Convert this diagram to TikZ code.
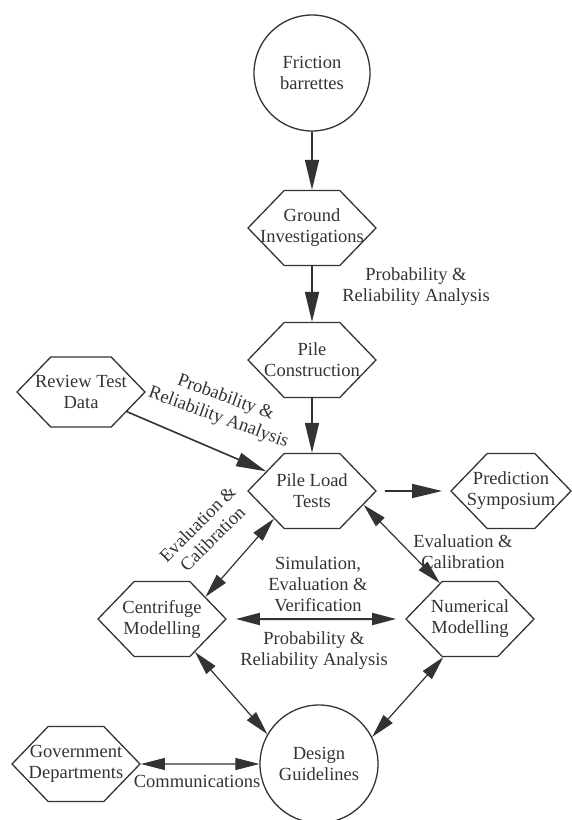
\documentclass[tikz,border=0pt]{standalone}
\usepackage{fontspec}
\setmainfont{Liberation Serif}
\usepackage{xcolor}
\usetikzlibrary{arrows.meta,shapes.symbols,shapes.geometric}
\definecolor{ink}{gray}{0.2}

\begin{document}
\begin{tikzpicture}[
  x=1pt, y=-1pt,
  txt/.style={font=\fontsize{18.5}{21}\selectfont, text=ink, align=center},
  hexbox/.style={txt, signal, signal to=east and west, signal pointer angle=92, draw=ink, line width=1.3pt, minimum width=128pt, minimum height=75pt, inner xsep=-32pt},
  roundbox/.style={txt, circle, draw=ink, line width=1.3pt, inner sep=0pt},
  lbl/.style={txt, inner sep=1pt},
  oneway/.style={draw=ink, line width=1.6pt, -{Triangle[length=30pt,width=14pt]}},
  twoway/.style={draw=ink, line width=1.2pt, {Triangle[length=24pt,width=12pt]}-{Triangle[length=24pt,width=12pt]}}
]
\useasboundingbox (0,0) rectangle (571,820);

\node[roundbox, minimum size=116pt] (friction) at (312,73) {Friction\\barrettes};
\node[hexbox] (ground) at (312,228) {Ground\\Investigations};
\node[hexbox] (pilecon) at (312,360) {Pile\\Construction};
\node[hexbox, minimum height=70pt] (review) at (81,392) {Review Test\\Data};
\node[hexbox] (pileload) at (312,491) {Pile Load\\Tests};
\node[hexbox, minimum width=120pt] (predict) at (511,491) {Prediction\\Symposium};
\node[hexbox] (centri) at (162,619) {Centrifuge\\Modelling};
\node[hexbox] (numeric) at (470,619) {Numerical\\Modelling};
\node[roundbox, minimum size=118pt] (design) at (319,764) {Design\\Guidelines};
\node[hexbox] (govern) at (76,764) {Government\\Departments};

\node[lbl] (plbl) at (416,287) {Probability \&\\Reliability Analysis};
\node[lbl, rotate=-20] (rlbl) at (222,408) {Probability \&\\Reliability Analysis};
\node[lbl, rotate=45] (elbl) at (205,531) {Evaluation \&\\Calibration};
\node[lbl] (erbl) at (463,552) {Evaluation \&\\Calibration};
\node[lbl] (slbl) at (318,584) {Simulation,\\Evaluation \&\\Verification};
\node[lbl] (blbl) at (314,651) {Probability \&\\Reliability Analysis};
\node[lbl] (clbl) at (197,781) {Communications};

\draw[oneway] (friction) -- (ground);
\draw[oneway] (ground) -- (pilecon);
\draw[oneway] (pilecon) -- (pileload);
\draw[oneway] (review) -- (pileload);
\draw[oneway, shorten <=8pt, shorten >=8pt] (pileload) -- (predict);
\draw[twoway] (centri.27) -- (pileload.-144);
\draw[twoway] (pileload.-15) -- (numeric.130);
\draw[twoway, line width=2pt, shorten <=9pt, shorten >=9pt] (centri) -- (numeric);
\draw[twoway] (centri.-45) -- (design.150);
\draw[twoway] (numeric.-125) -- (design.27);
\draw[twoway] (govern) -- (design);

\end{tikzpicture}
\end{document}
